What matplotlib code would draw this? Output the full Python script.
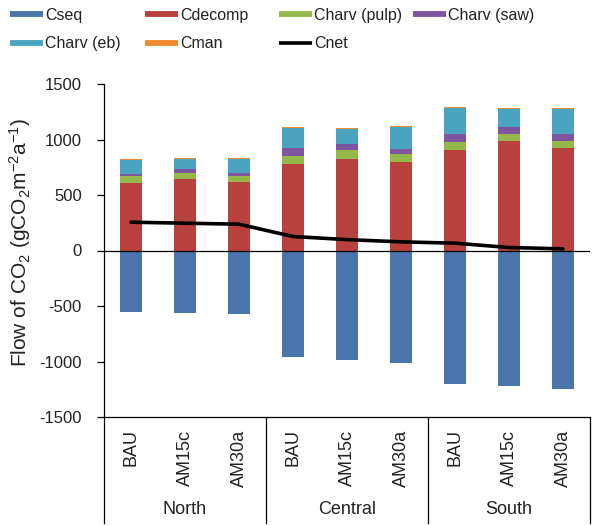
import matplotlib
matplotlib.use("Agg")
import matplotlib.pyplot as plt
from matplotlib.lines import Line2D
import numpy as np

plt.rcParams['font.family'] = ['Liberation Sans', 'DejaVu Sans']
plt.rcParams['mathtext.fontset'] = 'custom'
plt.rcParams['mathtext.rm'] = 'Liberation Sans'
plt.rcParams['mathtext.default'] = 'rm'

regions = ["North", "Central", "South"]
scenarios = ["BAU", "AM15c", "AM30a"]

# Flows of CO2 per region/scenario (gCO2 m-2 a-1)
cseq = [-555, -564, -576, -960, -984, -1011, -1200, -1224, -1251]
cdecomp = [607, 642, 618, 783, 828, 795, 909, 984, 921]
charv_pulp = [60, 54, 51, 72, 81, 75, 72, 63, 63]
charv_saw = [22, 36, 33, 66, 48, 48, 66, 63, 63]
charv_eb = [126, 90, 120, 180, 141, 195, 237, 165, 228]
cman = [8, 8, 8, 8, 8, 8, 8, 8, 8]
cnet = [255, 246, 237, 126, 98, 78, 66, 27, 15]

yticks = [-1500, -1000, -500, 0, 500, 1000, 1500]

colors = {
    "Cseq": "#4A74AC",
    "Cdecomp": "#B8413D",
    "Charv (pulp)": "#94B84A",
    "Charv (saw)": "#7D55A0",
    "Charv (eb)": "#4AA3BF",
    "Cman": "#F08A30",
    "Cnet": "black",
}

fig = plt.figure(figsize=(6.0, 5.25), dpi=100)
W, H = 600, 525
ax = fig.add_axes([104 / W, 1 - 417 / H, 486 / W, 333 / H])

labels = [s for r in regions for s in scenarios]
x = np.arange(len(labels))
bw = 0.39

ax.bar(x, cseq, bw, color=colors["Cseq"], zorder=2)
bottom = np.zeros(len(x))
for name, vals in [("Cdecomp", cdecomp), ("Charv (pulp)", charv_pulp),
                   ("Charv (saw)", charv_saw), ("Charv (eb)", charv_eb),
                   ("Cman", cman)]:
    ax.bar(x, vals, bw, bottom=bottom, color=colors[name], zorder=2)
    bottom += np.array(vals)

ax.axhline(0, color="black", lw=0.9, zorder=3)
ax.plot(x, cnet, color="black", lw=2.6, solid_joinstyle="round",
        solid_capstyle="round", zorder=4)

ax.set_xlim(-0.5, len(x) - 0.5)
ax.set_ylim(-1500, 1500)
ax.set_yticks(yticks)
ax.set_yticklabels([str(v) for v in yticks], fontsize=12, color="#222222")
ax.tick_params(axis="y", direction="out", length=5, width=0.9, pad=11)
ax.set_xticks(x)
ax.set_xticklabels(labels, rotation=90, fontsize=13, va="top", color="#222222")
ax.tick_params(axis="x", length=0, pad=9)

for s in ["top", "right"]:
    ax.spines[s].set_visible(False)
for s in ["left", "bottom"]:
    ax.spines[s].set_linewidth(0.9)

ax.set_ylabel(r"Flow of CO$_2$ (gCO$_2$m$^{-2}$a$^{-1}$)", fontsize=15,
              color="#222222")
ax.yaxis.set_label_coords(-0.146, 0.524)

# Group separators and region names below the axis
trans = ax.get_xaxis_transform()
y_low = -(523 - 417) / 333
for xs in [-0.5, 2.5, 5.5, 8.5]:
    ax.add_line(Line2D([xs, xs], [0, y_low], transform=trans, color="black",
                       lw=0.9, clip_on=False))
for i, r in enumerate(regions):
    ax.text(3 * i + 1, -(510 - 417) / 333, r, transform=trans, ha="center",
            va="center", fontsize=13, color="#222222")

# Legend in two rows across the top
legend_cols = [["Cseq", "Charv (eb)"], ["Cdecomp", "Cman"],
               ["Charv (pulp)", "Cnet"], ["Charv (saw)"]]
col_x = [10, 145, 279, 413]
for cx, names in zip(col_x, legend_cols):
    handles = [Line2D([], [], color=colors[n], lw=2.6 if n == "Cnet" else 4.2,
                      solid_capstyle="butt") for n in names]
    leg = fig.legend(handles, names, loc="upper left",
                     bbox_to_anchor=(cx / W, 1 - 8 / H), frameon=False,
                     fontsize=11.5, handlelength=2.07, handletextpad=0.12,
                     borderpad=0, borderaxespad=0, labelspacing=0.82)
    for t in leg.get_texts():
        t.set_color("#222222")

fig.savefig("out.png", dpi=100)
